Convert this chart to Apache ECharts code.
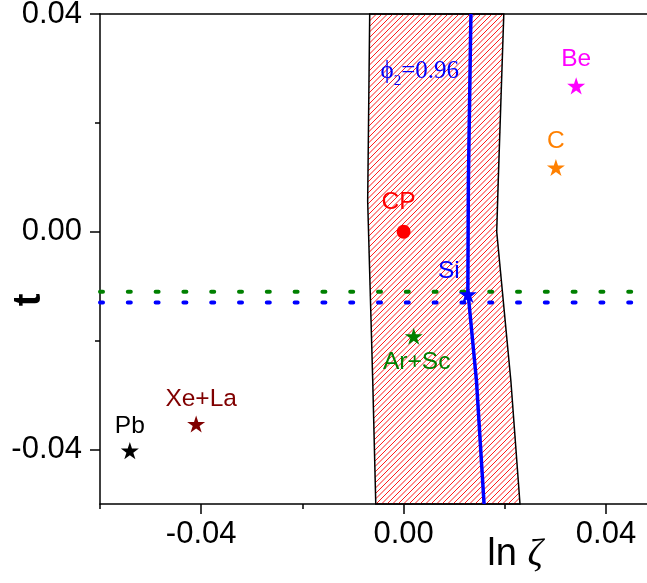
<!DOCTYPE html>
<html>
<head>
    <meta charset="utf-8">
    <title>t - ln zeta</title>
    <script src="https://cdn.jsdelivr.net/npm/echarts@6/dist/echarts.min.js"></script>
</head>
<body style="margin:0">
    <div id="main" style="width:647px;height:583px;"></div>
    <script type="text/javascript">
        // 数据
        var bandLeft = [[-0.0067, 0.04], [-0.0071, 0.0056], [-0.0061, -0.0274], [-0.0055, -0.05]];
        var bandRight = [[0.0198, 0.04], [0.0187, 0.0093], [0.0184, 0.0], [0.0212, -0.0274], [0.0230, -0.05]];
        var phiLine = [[0.0133, 0.04], [0.0128, 0.0093], [0.0127, -0.0109], [0.0144, -0.0274], [0.0159, -0.05]];
        var greenLevel = -0.011;
        var blueLevel = -0.013;
        var nuclei = ['Be', 'C', 'Si', 'Ar+Sc', 'Xe+La', 'Pb'];
        var nucleiX = [0.0341, 0.0301, 0.0127, 0.0020, -0.0410, -0.0541];
        var nucleiY = [0.0268, 0.0118, -0.0115, -0.0192, -0.0353, -0.0402];
        var cpPoint = [0.0, 0.0];
        var phiLabelAt = [0.0032, 0.0294];
        var xMajor = [-0.04, 0, 0.04];
        var xMinor = [-0.06, -0.02, 0.02];
        var yMajor = [-0.04, 0, 0.04];
        var yMinor = [-0.02, 0.02];
        var xMin = -0.06, xMax = 0.0481, yMin = -0.05, yMax = 0.04;

        // 样式
        var colors = { 'Be': '#ff00ff', 'C': '#ff8000', 'Si': '#0000ff', 'Ar+Sc': '#008000', 'Xe+La': '#800000', 'Pb': '#000000' };
        var labelOffset = { 'Be': [0, -27], 'C': [0, -26], 'Si': [-19, -23.5], 'Ar+Sc': [3, 26], 'Xe+La': [5, -25], 'Pb': [0, -24] };
        var star = 'path://M50,0 L61.2,34.5 L97.6,34.5 L68.2,55.9 L79.4,90.5 L50,69.1 L20.6,90.5 L31.8,55.9 L2.4,34.5 L38.8,34.5 Z';
        var hatchStep = 5.5;

        var axisLine = { show: true, onZero: false, lineStyle: { color: '#000', width: 1.5 } };
        var noLine = { show: false, onZero: false };
        var tickFmt = function (v) { return v.toFixed(2); };

        // 斜线阴影区域：用扫描线求每条 "/" 线与多边形的交段
        function renderBand(params, api) {
            var poly = bandLeft.concat(bandRight.slice().reverse()).map(function (p) { return api.coord(p); });
            var children = [];
            var minC = Infinity, maxC = -Infinity;
            poly.forEach(function (p) {
                minC = Math.min(minC, p[0] + p[1]);
                maxC = Math.max(maxC, p[0] + p[1]);
            });
            for (var c = Math.ceil(minC / hatchStep) * hatchStep; c <= maxC; c += hatchStep) {
                var hits = [];
                for (var i = 0; i < poly.length; i++) {
                    var a = poly[i], b = poly[(i + 1) % poly.length];
                    var fa = a[0] + a[1] - c, fb = b[0] + b[1] - c;
                    if ((fa < 0) !== (fb < 0)) {
                        var t = fa / (fa - fb);
                        hits.push([a[0] + t * (b[0] - a[0]), a[1] + t * (b[1] - a[1])]);
                    }
                }
                hits.sort(function (p, q) { return p[0] - q[0]; });
                for (var k = 0; k + 1 < hits.length; k += 2) {
                    children.push({
                        type: 'line',
                        shape: { x1: hits[k][0], y1: hits[k][1], x2: hits[k + 1][0], y2: hits[k + 1][1] },
                        style: { stroke: '#ff0000', lineWidth: 0.9 }
                    });
                }
            }
            children.push({
                type: 'polygon',
                shape: { points: poly },
                style: { fill: 'none', stroke: '#000', lineWidth: 1.5 }
            });
            return { type: 'group', children: children };
        }

        var myChart = echarts.init(document.getElementById('main'));
        myChart.setOption({
            animation: false,
            grid: { left: 100, top: 14, right: 0, bottom: 79, outerBoundsMode: 'none' },
            xAxis: [{
                type: 'value', min: xMin, max: xMax, position: 'bottom',
                axisLine: axisLine, splitLine: { show: false },
                axisTick: { show: true, customValues: xMajor, length: 10, lineStyle: { width: 1.5, color: '#000' } },
                axisLabel: { customValues: xMajor, formatter: tickFmt, fontSize: 31, fontFamily: 'Liberation Sans', color: '#000', margin: 15 }
            }, {
                type: 'value', min: xMin, max: xMax, position: 'bottom',
                axisLine: noLine, splitLine: { show: false },
                axisTick: { show: true, customValues: xMinor, length: 5, lineStyle: { width: 1.5, color: '#000' } },
                axisLabel: { show: false, customValues: xMinor }
            }, {
                type: 'value', min: xMin, max: xMax, position: 'top',
                axisLine: axisLine, splitLine: { show: false },
                axisTick: { show: false }, axisLabel: { show: false }
            }],
            yAxis: [{
                type: 'value', min: yMin, max: yMax, position: 'left',
                axisLine: axisLine, splitLine: { show: false },
                axisTick: { show: true, customValues: yMajor, length: 10, lineStyle: { width: 1.5, color: '#000' } },
                axisLabel: { customValues: yMajor, formatter: tickFmt, fontSize: 31, fontFamily: 'Liberation Sans', color: '#000', margin: 18 }
            }, {
                type: 'value', min: yMin, max: yMax, position: 'left',
                axisLine: noLine, splitLine: { show: false },
                axisTick: { show: true, customValues: yMinor, length: 5, lineStyle: { width: 1.5, color: '#000' } },
                axisLabel: { show: false, customValues: yMinor }
            }],
            graphic: [{
                type: 'text', x: 30, y: 300, rotation: Math.PI / 2,
                style: { text: 't', fontSize: 38, fontWeight: 'bold', fontFamily: 'Liberation Sans', fill: '#000', align: 'center', verticalAlign: 'middle' }
            }, {
                type: 'text', x: 515, y: 555,
                style: {
                    text: '{a|ln }{b|ζ}', align: 'center', verticalAlign: 'middle',
                    rich: {
                        a: { fontSize: 38, fontFamily: 'Liberation Sans', fill: '#000' },
                        b: { fontSize: 38, fontStyle: 'italic', fontFamily: 'Liberation Serif', fill: '#000' }
                    }
                }
            }],
            series: [{
                type: 'custom', z: 1, silent: true,
                data: [[0, 0]],
                renderItem: renderBand
            }, {
                type: 'line', z: 3, symbol: 'none', silent: true,
                data: phiLine,
                lineStyle: { color: '#0000ff', width: 3.5 }
            }, {
                type: 'line', z: 3, symbol: 'none', silent: true,
                data: [[xMin, greenLevel], [xMax, greenLevel]],
                lineStyle: { color: '#008000', width: 4, type: [3, 24.8], cap: 'round' }
            }, {
                type: 'line', z: 3, symbol: 'none', silent: true,
                data: [[xMin, blueLevel], [xMax, blueLevel]],
                lineStyle: { color: '#0000ff', width: 4, type: [3, 24.8], cap: 'round' }
            }, {
                type: 'scatter', z: 5, silent: true,
                symbol: star, symbolSize: 18, symbolKeepAspect: true,
                itemStyle: { opacity: 1 },
                data: nuclei.map(function (n, i) {
                    return {
                        name: n, value: [nucleiX[i], nucleiY[i]],
                        itemStyle: { color: colors[n], opacity: 1 },
                        label: {
                            show: true, formatter: n, position: 'inside', offset: labelOffset[n],
                            color: colors[n], fontSize: 24.5, fontFamily: 'Liberation Sans'
                        }
                    };
                })
            }, {
                type: 'scatter', z: 5, silent: true,
                symbol: 'circle', symbolSize: 14,
                itemStyle: { opacity: 1 },
                data: [{
                    name: 'CP', value: cpPoint,
                    itemStyle: { color: '#ff0000', opacity: 1 },
                    label: { show: true, formatter: 'CP', position: 'inside', offset: [-5, -30], color: '#ff0000', fontSize: 24.5, fontFamily: 'Liberation Sans' }
                }]
            }, {
                type: 'scatter', z: 6, silent: true,
                symbolSize: 1, itemStyle: { color: 'rgba(0,0,0,0)', opacity: 1 },
                data: [{
                    value: phiLabelAt,
                    label: {
                        show: true, position: 'inside',
                        formatter: '{p|ϕ}{s|2}{p|=0.96}',
                        rich: {
                            p: { fontSize: 25, fontFamily: 'Liberation Serif', color: '#0000ff', lineHeight: 24 },
                            s: { fontSize: 15, fontFamily: 'Liberation Serif', color: '#0000ff', lineHeight: 15, padding: [18, 0, 0, 0] }
                        }
                    }
                }]
            }]
        });
    </script>
</body>
</html>
